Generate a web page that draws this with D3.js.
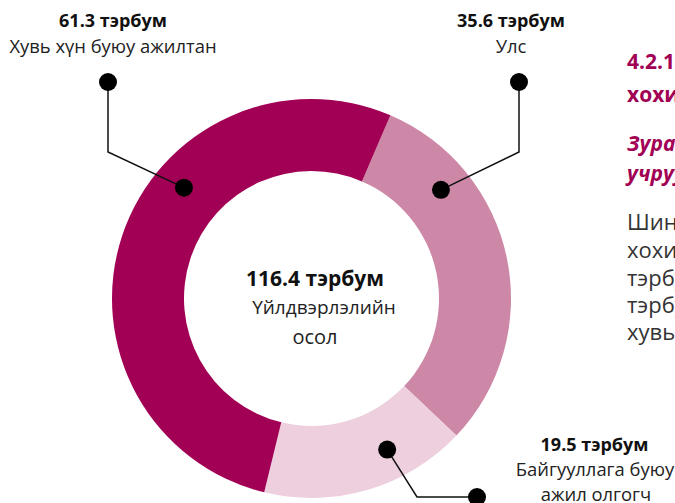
<!DOCTYPE html>
<html>
<head>
<meta charset="utf-8">
<script src="https://cdn.jsdelivr.net/npm/d3@7"></script>
<style>
  html, body { margin: 0; padding: 0; background: #fff; overflow: hidden; }
  svg { display: block; font-family: "Open Sans", "Noto Sans", sans-serif; }
</style>
</head>
<body>
<svg id="chart" width="675" height="503"></svg>
<script>
// ---- data ----
const categories = ["Улс", "Байгууллага буюу ажил олгогч", "Хувь хүн буюу ажилтан"];
const values = [35.6, 19.5, 61.3];
const valueLabels = ["35.6 тэрбум", "19.5 тэрбум", "61.3 тэрбум"];
const nameLines = [["Улс"], ["Байгууллага буюу", "ажил олгогч"], ["Хувь хүн буюу ажилтан"]];
const totalLabel = "116.4 тэрбум";
const centerLines = ["Үйлдвэрлэлийн", "осол"];
const sideTitle = ["4.2.1 Үйлдвэрлэлийн", "хохирол"];
const sideSubtitle = ["Зураг 4.2", "учруулсан"];
const sideBody = ["Шинжилгээнд", "хохирол", "тэрбум", "тэрбум", "хувь"];

// ---- layout ----
const colors = ["#CD88A8", "#EDCFDE", "#A10054"];
const cx = 311.5, cy = 298.5, rOuter = 199.5, rInner = 127.5;
const startDeg = 23.3;
const anchorDeg = [50, 153.4, 311];      // where the leader dots sit on the ring
const anchorR = 169;
const leaders = [
  { elbow: [519, 152], end: [519, 82] },
  { elbow: [417, 497], end: [477, 497] },
  { elbow: [108, 152], end: [108, 82] }
];
const labelPos = [
  { x: 511, y1: 27, lines: [{ x: 511, y: 53 }] },
  { x: 594.5, y1: 451, lines: [{ x: 595, y: 476 }, { x: 596, y: 501 }] },
  { x: 113, y1: 27, lines: [{ x: 113, y: 53 }] }
];

const svg = d3.select("#chart");
const g = svg.append("g").attr("transform", `translate(${cx},${cy})`);

const rad = d => d * Math.PI / 180;
const pie = d3.pie().sort(null).value(d => d)
  .startAngle(rad(startDeg)).endAngle(rad(startDeg) + 2 * Math.PI);
const arc = d3.arc().innerRadius(rInner).outerRadius(rOuter);

g.selectAll("path.slice").data(pie(values)).enter().append("path")
  .attr("class", "slice")
  .attr("d", arc)
  .attr("fill", (d, i) => colors[i]);

// leader lines & dots
const anchorPt = i => {
  const a = rad(anchorDeg[i]);
  return [cx + anchorR * Math.sin(a), cy - anchorR * Math.cos(a)];
};
values.forEach((v, i) => {
  const p = anchorPt(i), L = leaders[i];
  svg.append("polyline")
    .attr("points", [p, L.elbow, L.end].map(q => q.join(",")).join(" "))
    .attr("fill", "none").attr("stroke", "#111").attr("stroke-width", 1.5);
  svg.append("circle").attr("cx", p[0]).attr("cy", p[1]).attr("r", 9).attr("fill", "#000");
  svg.append("circle").attr("cx", L.end[0]).attr("cy", L.end[1]).attr("r", 9).attr("fill", "#000");
});

// slice labels
values.forEach((v, i) => {
  const P = labelPos[i];
  svg.append("text").attr("x", P.x).attr("y", P.y1).attr("text-anchor", "middle")
    .attr("font-size", 18).attr("font-weight", 700).attr("fill", "#111").text(valueLabels[i]);
  nameLines[i].forEach((t, j) => {
    svg.append("text").attr("x", P.lines[j].x).attr("y", P.lines[j].y).attr("text-anchor", "middle")
      .attr("font-size", 18.4).attr("fill", "#222").text(t);
  });
});

// center text
svg.append("text").attr("x", 315).attr("y", 286).attr("text-anchor", "middle")
  .attr("font-size", 21).attr("font-weight", 700).attr("fill", "#111").text(totalLabel);
svg.append("text").attr("x", 324).attr("y", 314).attr("text-anchor", "middle")
  .attr("font-size", 19).attr("fill", "#222").text(centerLines[0]);
svg.append("text").attr("x", 315).attr("y", 344).attr("text-anchor", "middle")
  .attr("font-size", 20).attr("fill", "#222").text(centerLines[1]);

// side text (clipped by page edge)
const sx = 627;
[69, 102].forEach((y, i) => svg.append("text").attr("x", sx).attr("y", y)
  .attr("font-size", 21).attr("font-weight", 700).attr("fill", "#A10054").text(sideTitle[i]));
[151, 181].forEach((y, i) => svg.append("text").attr("x", sx).attr("y", y)
  .attr("font-size", 21).attr("font-weight", 700).attr("font-style", "italic")
  .attr("fill", "#A10054").text(sideSubtitle[i]));
[230, 258, 286, 313, 340].forEach((y, i) => svg.append("text").attr("x", sx).attr("y", y)
  .attr("font-size", 22).attr("fill", "#333").text(sideBody[i]));
</script>
</body>
</html>
